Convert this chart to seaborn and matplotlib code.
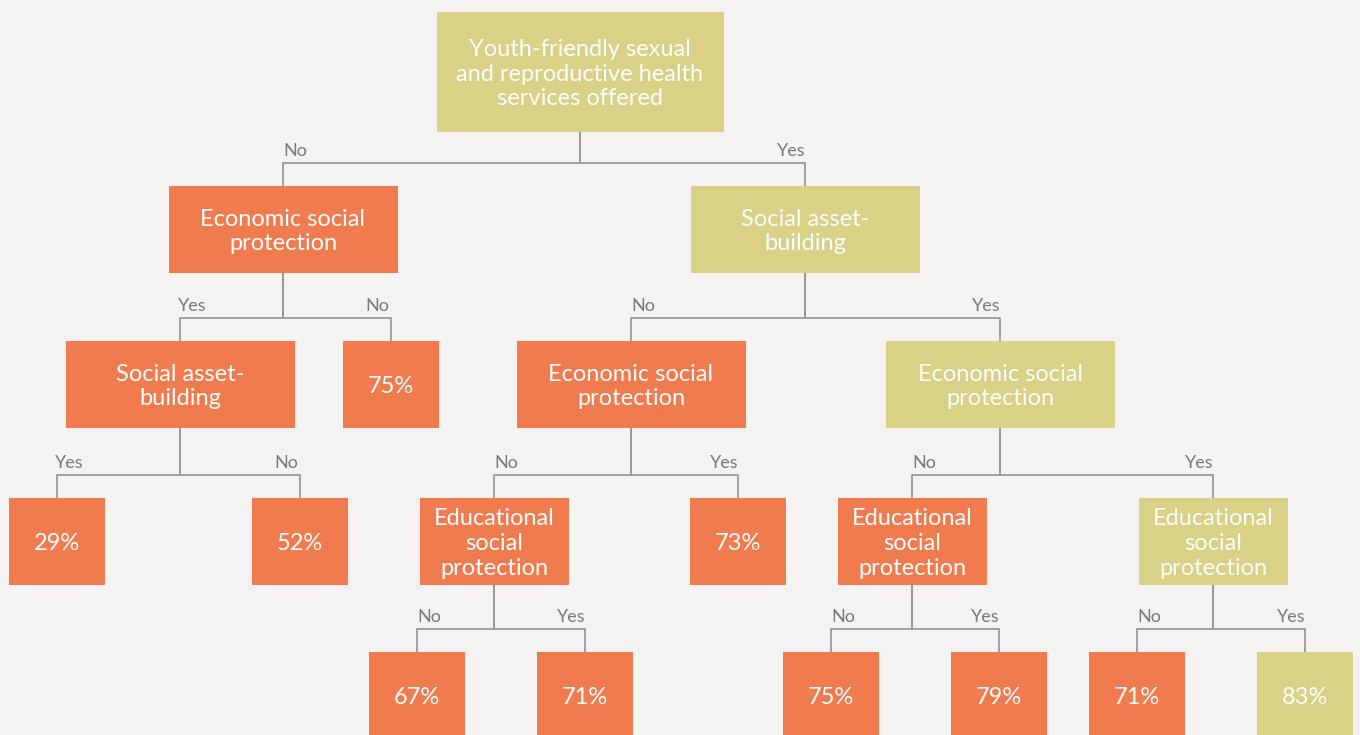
import matplotlib
matplotlib.use("Agg")
import matplotlib.pyplot as plt
from matplotlib.patches import Rectangle
import seaborn as sns

# tree content
node_text = [
    "Youth-friendly sexual\nand reproductive health\nservices offered",
    "Economic social\nprotection", "Social asset-\nbuilding",
    "Social asset-\nbuilding", "75%", "Economic social\nprotection", "Economic social\nprotection",
    "29%", "52%", "Educational\nsocial\nprotection", "73%",
    "Educational\nsocial\nprotection", "Educational\nsocial\nprotection",
    "67%", "71%", "75%", "79%", "71%", "83%",
]
node_parent = [None, 0, 0, 1, 1, 2, 2, 3, 3, 5, 5, 6, 6, 9, 9, 11, 11, 12, 12]
edge_label = [None, "No", "Yes", "Yes", "No", "No", "Yes", "Yes", "No", "No", "Yes",
              "No", "Yes", "No", "Yes", "No", "Yes", "No", "Yes"]
node_group = ["olive", "orange", "olive", "orange", "orange", "orange", "olive",
              "orange", "orange", "orange", "orange", "orange", "olive",
              "orange", "orange", "orange", "orange", "orange", "olive"]

# layout (pixels)
node_depth = [0, 1, 1, 2, 2, 2, 2, 3, 3, 3, 3, 3, 3, 4, 4, 4, 4, 4, 4]
node_x = [580, 283, 805, 180, 391, 631, 1000, 57, 300, 494, 738, 912, 1213,
          417, 585, 831, 999, 1137, 1305]
row_top = [12, 186, 341, 498, 652]
node_w = [287, 229, 229, 229, 96, 229, 229, 96, 96, 149, 96, 149, 149,
          96, 96, 96, 96, 96, 96]

colors = {"orange": "#EF7B4F", "olive": "#D8D186"}
bg = "#F4F3F1"

sns.set_theme(style="white", rc={"figure.facecolor": bg, "axes.facecolor": bg})
plt.rcParams["font.family"] = ["Lato", "DejaVu Sans"]

fig = plt.figure(figsize=(13.6, 7.35), dpi=100)
ax = fig.add_axes([0, 0, 1, 1])
ax.set_xlim(0, 1360)
ax.set_ylim(735, 0)
ax.axis("off")

def box_h(i):
    return 120 if node_depth[i] == 0 else 87

for i, txt in enumerate(node_text):
    d = node_depth[i]
    top = row_top[d]
    h = box_h(i)
    x0 = node_x[i] - node_w[i] / 2
    ax.add_patch(Rectangle((x0, top), node_w[i], h, facecolor=colors[node_group[i]],
                           edgecolor="none", zorder=2))
    ax.text(node_x[i], top + h / 2 + 2, txt, ha="center", va="center", color="white",
            fontsize=17, linespacing=1.22, zorder=3)

    p = node_parent[i]
    if p is None:
        continue
    hy = top - 23
    pbot = row_top[node_depth[p]] + box_h(p)
    lc = "#9A9A9A"
    ax.plot([node_x[p], node_x[p]], [pbot, hy], color=lc, lw=1.3, zorder=1)
    ax.plot([node_x[p], node_x[i]], [hy, hy], color=lc, lw=1.3, zorder=1,
            solid_capstyle="butt")
    ax.plot([node_x[i], node_x[i]], [hy, top], color=lc, lw=1.3, zorder=1)
    off = 12 if node_x[i] < node_x[p] else -14
    ax.text(node_x[i] + off, hy - 4, edge_label[i], ha="center", va="bottom",
            color="#7A7A7A", fontsize=13)

fig.savefig("out.png", dpi=100, facecolor=bg)
